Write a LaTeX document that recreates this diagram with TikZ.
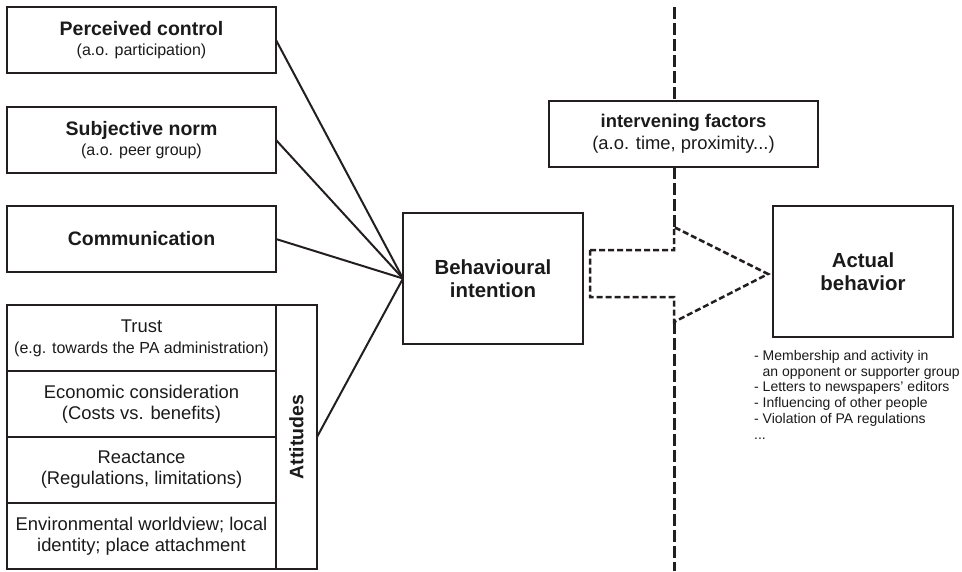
\documentclass[tikz,border=0pt]{standalone}
\usepackage{fontspec}
\setmainfont{Liberation Sans}
\usetikzlibrary{calc}
\definecolor{ink}{HTML}{231F20}
\definecolor{txt}{HTML}{1A1A1A}
\tikzset{
  box/.style={draw=ink, line width=2pt, rectangle, inner sep=0pt, outer sep=0pt, align=center, text=txt},
  leftbox/.style={box, minimum width=269pt, minimum height=66pt, font=\fontsize{16}{20}\selectfont},
  rowbox/.style={box, minimum width=269pt, minimum height=66pt, font=\fontsize{18.4}{21}\selectfont},
  bigbox/.style={box, minimum width=180pt, minimum height=131pt, font=\fontsize{20.4}{23}\selectfont\bfseries},
  conn/.style={draw=ink, line width=2pt},
  vdash/.style={draw=ink, line width=3pt, dash pattern=on 12pt off 4pt},
  arrowdash/.style={draw=ink, line width=2.5pt, dash pattern=on 6pt off 3pt, line join=miter}
}
\begin{document}
\begin{tikzpicture}[x=1pt,y=-1pt]
\useasboundingbox (0,0) rectangle (962,571);

% left boxes
\node[leftbox] (pc) at (141.5,40) {{\fontsize{19.5}{20}\selectfont\bfseries Perceived control}\\(a.o. participation)};
\node[leftbox] (sn) at (141.5,140) {{\fontsize{19.5}{20}\selectfont\bfseries Subjective norm}\\(a.o. peer group)};
\node[leftbox, font=\fontsize{19.5}{22}\selectfont\bfseries] (cm) at (141.5,239) {Communication};

% attitudes
\node[rowbox] (tr) at (141.5,338) {Trust\\{\fontsize{16}{21}\selectfont (e.g. towards the PA administration)}};
\node[rowbox] (ec) at (141.5,404) {Economic consideration\\(Costs vs. benefits)};
\node[rowbox] (re) at (141.5,470) {Reactance\\(Regulations, limitations)};
\node[rowbox] (ev) at (141.5,536) {Environmental worldview; local\\identity; place attachment};
\node[box, minimum width=41pt, minimum height=264pt] (att) at (296.5,437) {};
\node[rotate=90, text=txt, font=\fontsize{19.5}{22}\selectfont\bfseries] (attl) at (att.center) {Attitudes};

% central boxes
\node[bigbox] (bi) at (493,278.5) {Behavioural\\intention};
\node[bigbox] (ab) at (863,271.5) {Actual\\behavior};
\node[box, minimum width=269pt, minimum height=66pt, font=\fontsize{18.4}{22}\selectfont] (if) at (683.5,134) {{\bfseries intervening factors}\\(a.o. time, proximity...)};

% connectors
\draw[conn] (pc.east) -- (bi.west);
\draw[conn] (sn.east) -- (bi.west);
\draw[conn] (cm.east) -- (bi.west);
\draw[conn] (att.east) -- (bi.west);

% dashed arrow
\coordinate (s) at ($(bi.east)+(7,-4.5)$);
\coordinate (t) at ($(ab.west)+(-5,2.5)$);
\coordinate (hu) at ($(s)+(84,-47)$);
\coordinate (hd) at ($(s)+(84,48)$);
\draw[arrowdash] ($(s)+(0,-24)$) -- ($(s)+(84,-24)$) -- (hu) -- (t) -- (hd) -- ($(s)+(84,23)$) -- ($(s)+(0,23)$) -- cycle;

% vertical dashed line
\coordinate (vtop) at (674,7);
\coordinate (vbot) at (674,571);
\draw[vdash] (vtop) -- (vtop |- if.north);
\draw[vdash] (vtop |- if.south) -- (hu);
\draw[vdash] (hd) -- (vbot);

% list
\node[anchor=north west, inner sep=0pt, align=left, text=txt, font=\fontsize{14}{15.8}\selectfont] (lst) at (754,350)
 {- Membership and activity in\\\hspace*{8.5pt}an opponent or supporter group\\- Letters to newspapers' editors\\- Influencing of other people\\- Violation of PA regulations\\...};
\end{tikzpicture}
\end{document}
